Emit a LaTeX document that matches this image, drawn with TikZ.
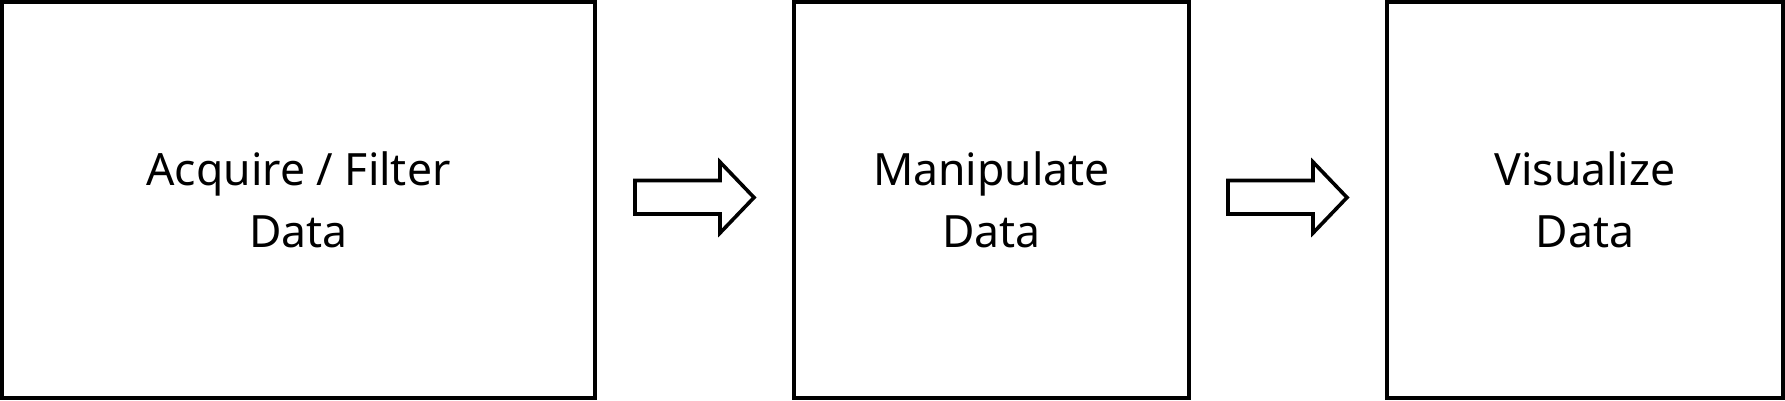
\documentclass[tikz,border=0pt]{standalone}
\usepackage{fontspec}
\setmainfont{Noto Sans}
\begin{document}
\begin{tikzpicture}[x=1pt,y=-1pt,
  stagebox/.style={draw=black,line width=3.8pt,inner sep=0pt,align=center,
    font=\fontsize{44.5}{62}\selectfont},
  blockarrow/.style={draw=black,line width=3.6pt,line join=miter,fill=white}]
\useasboundingbox (0,0) rectangle (1785,400);
\node[stagebox,minimum width=593pt,minimum height=396pt] (acq) at (298.5,200) {Acquire / Filter\\Data};
\node[stagebox,minimum width=395pt,minimum height=396pt] (man) at (991.5,200) {Manipulate\\Data};
\node[stagebox,minimum width=396pt,minimum height=396pt] (vis) at (1585,200) {Visualize\\Data};
\foreach \dx/\n in {0/a1,593/a2}{
  \begin{scope}[xshift=\dx]
    \draw[blockarrow] (635,180.5) -- (720,180.5) -- (720,162) -- (754,197.5)
      -- (720,233) -- (720,214) -- (635,214) -- cycle;
  \end{scope}
}
\end{tikzpicture}
\end{document}
